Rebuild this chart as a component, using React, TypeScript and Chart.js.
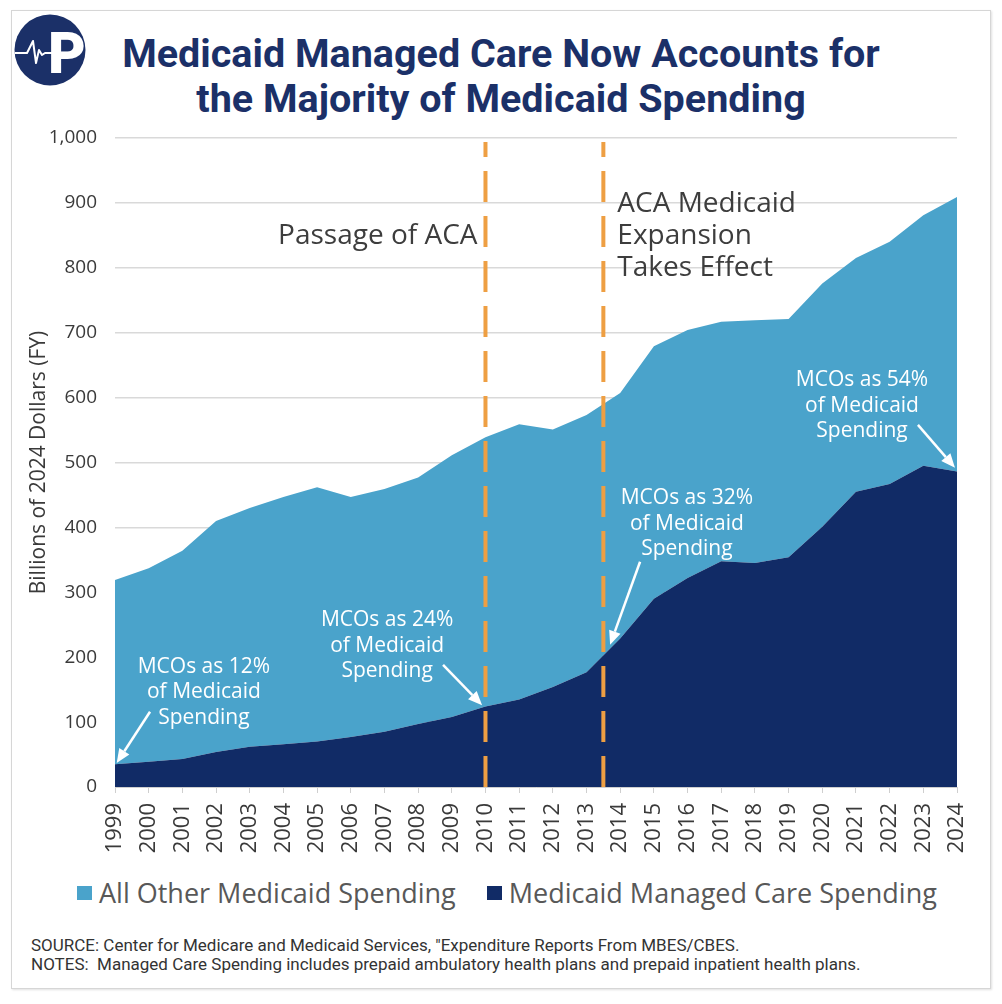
import { useEffect, useRef } from "react";
import { Chart, registerables } from "chart.js";

Chart.register(...registerables);

// Fiscal years on the x axis
const YEARS = [
  "1999", "2000", "2001", "2002", "2003", "2004", "2005", "2006", "2007",
  "2008", "2009", "2010", "2011", "2012", "2013", "2014", "2015", "2016",
  "2017", "2018", "2019", "2020", "2021", "2022", "2023", "2024",
];

// Billions of 2024 dollars
const MANAGED_CARE = [
  35, 39, 43, 54, 62, 66, 70, 77, 85, 97, 108, 124, 135, 154, 177, 229, 290,
  322, 348, 345, 354, 401, 455, 467, 495, 486,
];
const ALL_OTHER = [
  284, 298, 321, 356, 368, 381, 392, 370, 374, 380, 403, 415, 424, 397, 396,
  378, 389, 382, 369, 374, 367, 375, 360, 373, 386, 423,
];

const Y_MIN = 0;
const Y_MAX = 1000;
const Y_STEP = 100;

const LIGHT_BLUE = "#4AA3CB";
const NAVY = "#112B66";
const ORANGE = "#EE9F43";
const TITLE_NAVY = "#1B3068";
const TEXT_GRAY = "#3d3d3d";

const FONT = "'Open Sans', 'DejaVu Sans', sans-serif";

// Policy milestones, placed by category index
const EVENTS = [
  { at: 11, side: "left", lines: ["Passage of ACA"], value: 849 },
  { at: 14.5, side: "right", lines: ["ACA Medicaid", "Expansion", "Takes Effect"], value: 898 },
];

// Share callouts: text anchor and arrow in (index, value) space
const CALLOUTS = [
  { lines: ["MCOs as 12%", "of Medicaid", "Spending"], text: [2.64, 185], from: [1.04, 116], to: [0.05, 37] },
  { lines: ["MCOs as 24%", "of Medicaid", "Spending"], text: [8.08, 257], from: [9.74, 188], to: [10.9, 126] },
  { lines: ["MCOs as 32%", "of Medicaid", "Spending"], text: [16.98, 445], from: [15.59, 347], to: [14.7, 219] },
  { lines: ["MCOs as 54%", "of Medicaid", "Spending"], text: [22.18, 627], from: [23.84, 558], to: [24.94, 492] },
];

const annotationPlugin = {
  id: "policyAnnotations",
  afterDatasetsDraw(chart: any) {
    const { ctx, chartArea } = chart;
    const x = chart.scales.x;
    const y = chart.scales.y;
    ctx.save();

    // Dashed milestone lines and their labels
    for (const ev of EVENTS) {
      const px = x.getPixelForValue(ev.at);
      ctx.strokeStyle = ORANGE;
      ctx.lineWidth = 4;
      ctx.setLineDash([31, 14]);
      ctx.lineDashOffset = 16;
      ctx.beginPath();
      ctx.moveTo(px, y.getPixelForValue(Y_MAX) + 4);
      ctx.lineTo(px, chartArea.bottom);
      ctx.stroke();
      ctx.setLineDash([]);

      ctx.fillStyle = TEXT_GRAY;
      ctx.font = `28px ${FONT}`;
      ctx.textBaseline = "middle";
      ctx.textAlign = ev.side === "left" ? "right" : "left";
      const tx = ev.side === "left" ? px - 8 : px + 14;
      const y0 = y.getPixelForValue(ev.value);
      ev.lines.forEach((line, i) => ctx.fillText(line, tx, y0 + i * 32));
    }

    // White callouts with arrows
    ctx.fillStyle = "#ffffff";
    ctx.strokeStyle = "#ffffff";
    ctx.font = `21px ${FONT}`;
    ctx.textAlign = "center";
    ctx.textBaseline = "middle";
    for (const c of CALLOUTS) {
      const tx = x.getPixelForValue(c.text[0]);
      const ty = y.getPixelForValue(c.text[1]);
      c.lines.forEach((line, i) => ctx.fillText(line, tx, ty + i * 25.5));

      const sx = x.getPixelForValue(c.from[0]);
      const sy = y.getPixelForValue(c.from[1]);
      const ex = x.getPixelForValue(c.to[0]);
      const ey = y.getPixelForValue(c.to[1]);
      const ang = Math.atan2(ey - sy, ex - sx);
      const head = 14;
      const half = 6;
      const bx = ex - head * Math.cos(ang);
      const by = ey - head * Math.sin(ang);
      ctx.lineWidth = 2.5;
      ctx.beginPath();
      ctx.moveTo(sx, sy);
      ctx.lineTo(bx, by);
      ctx.stroke();
      ctx.beginPath();
      ctx.moveTo(ex, ey);
      ctx.lineTo(bx + half * Math.sin(ang), by - half * Math.cos(ang));
      ctx.lineTo(bx - half * Math.sin(ang), by + half * Math.cos(ang));
      ctx.closePath();
      ctx.fill();
    }
    ctx.restore();
  },
};

function SpendingChart() {
  const canvasRef = useRef<HTMLCanvasElement | null>(null);

  useEffect(() => {
    const canvas = canvasRef.current;
    if (!canvas) return;
    const chart = new Chart(canvas, {
      type: "line",
      data: {
        labels: YEARS,
        datasets: [
          {
            label: "Medicaid Managed Care Spending",
            data: MANAGED_CARE,
            backgroundColor: NAVY,
            borderColor: NAVY,
            borderWidth: 0,
            pointRadius: 0,
            fill: "origin",
            tension: 0,
          },
          {
            label: "All Other Medicaid Spending",
            data: ALL_OTHER,
            backgroundColor: LIGHT_BLUE,
            borderColor: LIGHT_BLUE,
            borderWidth: 0,
            pointRadius: 0,
            fill: "-1",
            tension: 0,
          },
        ],
      },
      options: {
        responsive: false,
        animation: false,
        devicePixelRatio: 1,
        layout: { padding: { top: 138, right: 45, left: 0, bottom: 0 } },
        plugins: {
          legend: { display: false },
          tooltip: { enabled: false },
        },
        scales: {
          x: {
            offset: false,
            grid: {
              display: true,
              drawOnChartArea: false,
              drawTicks: true,
              tickLength: 6,
              color: "#cfcfcf",
            },
            border: { display: true, color: "#cfcfcf", width: 1 },
            ticks: {
              autoSkip: false,
              maxRotation: 90,
              minRotation: 90,
              padding: 10,
              color: "#3a3a3a",
              font: { family: FONT, size: 22 },
            },
            afterFit(scale: any) {
              scale.height = 83;
            },
          },
          y: {
            stacked: true,
            min: Y_MIN,
            max: Y_MAX,
            ticks: {
              stepSize: Y_STEP,
              padding: 18,
              color: "#3a3a3a",
              font: { family: FONT, size: 19 },
            },
            grid: { color: "#d9d9d9", lineWidth: 1.5, drawTicks: false },
            border: { display: false },
            title: {
              display: true,
              text: "Billions of 2024 Dollars (FY)",
              color: "#3a3a3a",
              font: { family: FONT, size: 21 },
              padding: { top: 26, bottom: 0 },
            },
            afterFit(scale: any) {
              scale.width = 115;
            },
          },
        },
      },
      plugins: [annotationPlugin],
    });
    return () => chart.destroy();
  }, []);

  return (
    <canvas
      ref={canvasRef}
      width={1002}
      height={870}
      style={{ position: "absolute", left: 0, top: 0, width: 1002, height: 870 }}
    />
  );
}

function Logo() {
  return (
    <svg
      width={72}
      height={72}
      viewBox="14 14 72 72"
      style={{ position: "absolute", left: 14, top: 14 }}
    >
      <circle cx={50} cy={50} r={35.5} fill={TITLE_NAVY} />
      <text
        x={67}
        y={73}
        textAnchor="middle"
        fill="#ffffff"
        fontFamily="Roboto, sans-serif"
        fontWeight={900}
        fontSize={58}
      >
        P
      </text>
      <polyline
        points="15,53 27,53 30,47 33,41 36,63 39,50 42,55 45,53 55,53"
        fill="none"
        stroke="#ffffff"
        strokeWidth={2}
        strokeLinejoin="round"
      />
    </svg>
  );
}

export default function App() {
  return (
    <div
      style={{
        position: "absolute",
        left: 0,
        top: 0,
        width: 1002,
        height: 1004,
        background: "#ffffff",
        overflow: "hidden",
      }}
    >
      <div
        style={{
          position: "absolute",
          left: 11,
          top: 10,
          width: 978,
          height: 977,
          border: "1px solid #d6d6d6",
          boxShadow: "1px 1px 2px rgba(0,0,0,0.12)",
        }}
      />
      <Logo />
      <div
        style={{
          position: "absolute",
          left: 0,
          top: 31,
          width: 1002,
          textAlign: "center",
          fontFamily: "Roboto, sans-serif",
          fontWeight: 700,
          fontSize: 39.5,
          lineHeight: "45px",
          color: TITLE_NAVY,
        }}
      >
        <div>Medicaid Managed Care Now Accounts for</div>
        <div>the Majority of Medicaid Spending</div>
      </div>
      <SpendingChart />
      <div
        style={{
          position: "absolute",
          left: 77,
          top: 874,
          display: "flex",
          alignItems: "center",
          fontFamily: FONT,
          fontSize: 27,
          lineHeight: "38px",
          color: "#585858",
          whiteSpace: "nowrap",
        }}
      >
        <span style={{ width: 15, height: 14, background: LIGHT_BLUE, marginRight: 7 }} />
        <span>All Other Medicaid Spending</span>
        <span style={{ width: 15, height: 14, background: NAVY, marginLeft: 31, marginRight: 7 }} />
        <span>Medicaid Managed Care Spending</span>
      </div>
      <div
        style={{
          position: "absolute",
          left: 31,
          top: 936,
          fontFamily: "Roboto, sans-serif",
          fontSize: 17,
          lineHeight: "19px",
          color: "#333333",
          whiteSpace: "pre",
        }}
      >
        <div>SOURCE: Center for Medicare and Medicaid Services, "Expenditure Reports From MBES/CBES.</div>
        <div>NOTES:  Managed Care Spending includes prepaid ambulatory health plans and prepaid inpatient health plans.</div>
      </div>
    </div>
  );
}
